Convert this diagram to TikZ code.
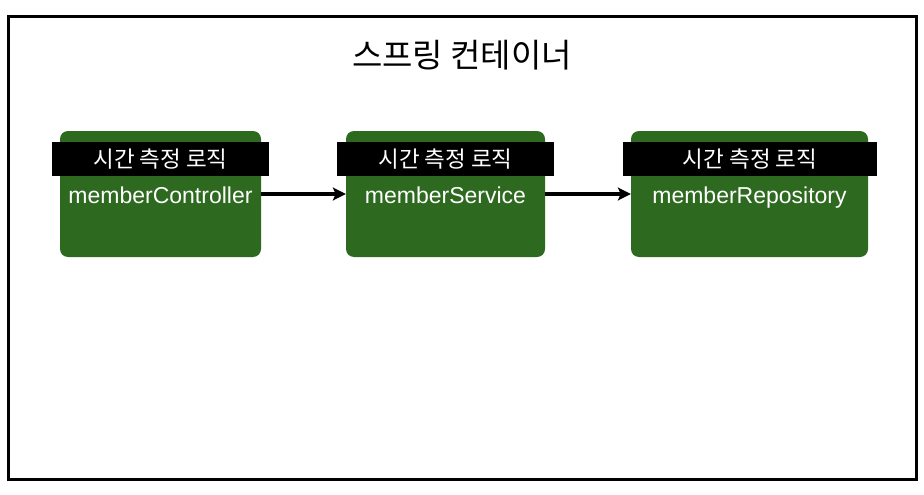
\documentclass[tikz,border=0pt]{standalone}
\usepackage{fontspec}
\setmainfont{Liberation Sans}
\newfontfamily\kr{Noto Sans CJK KR}
\usetikzlibrary{arrows.meta}
\definecolor{boxgreen}{RGB}{45,106,31}
\tikzset{
  gbox/.style={fill=boxgreen, draw=none, rounded corners=8pt, minimum height=126pt, inner sep=0pt},
  bar/.style={fill=black, draw=none, minimum height=34pt, inner sep=0pt, text=white, font=\kr\fontsize{22.5}{23}\selectfont},
  lbl/.style={text=white, inner sep=0pt, anchor=base, font=\fontsize{23}{24}\selectfont},
  conn/.style={draw=black, line width=3.2pt, -{Stealth[length=13pt,width=13pt,inset=3pt]}},
}
\begin{document}
\begin{tikzpicture}[x=1pt,y=-1pt]
\useasboundingbox (0,0) rectangle (924,495);
\fill[white] (0,0) rectangle (924,495);
\draw[line width=3pt] (8,16.5) rectangle (916.5,479.5);
\node[inner sep=0pt, font=\kr\fontsize{33}{34}\selectfont] (title) at (462,55) {스프링 컨테이너};
\node[gbox, minimum width=201pt] (g1) at (160.5,194) {};
\node[gbox, minimum width=199pt] (g2) at (445.5,194) {};
\node[gbox, minimum width=237pt] (g3) at (749.5,194) {};
\node[bar, minimum width=217pt] (b1) at (160.5,159) {시간 측정 로직};
\node[bar, minimum width=217pt] (b2) at (445.5,159) {시간 측정 로직};
\node[bar, minimum width=254pt] (b3) at (750,159) {시간 측정 로직};
\node[lbl] (t1) at (160.5,203) {memberController};
\node[lbl] (t2) at (445.5,203) {memberService};
\node[lbl] (t3) at (749.5,203) {memberRepository};
\draw[conn] (g1) -- (g2);
\draw[conn] (g2) -- (g3);
\end{tikzpicture}
\end{document}
